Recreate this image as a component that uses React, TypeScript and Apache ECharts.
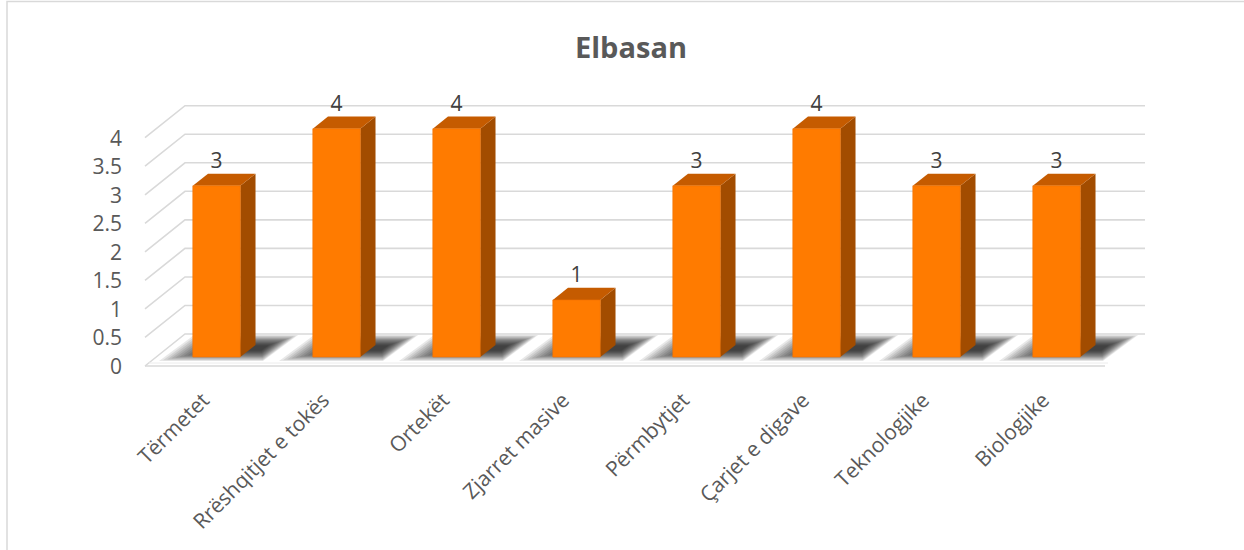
import React, { useEffect, useRef } from "react";
import * as echarts from "echarts";

const chartTitle = "Elbasan";
const categories = [
  "Tërmetet",
  "Rrëshqitjet e tokës",
  "Ortekët",
  "Zjarret masive",
  "Përmbytjet",
  "Çarjet e digave",
  "Teknologjike",
  "Biologjike",
];
const values = [3, 4, 4, 1, 3, 4, 3, 3];
const yTicks = [0, 0.5, 1, 1.5, 2, 2.5, 3, 3.5, 4];

const FONT = "'Open Sans', 'Noto Sans', sans-serif";
const DX = 40;
const DY = -32;
const F1 = 0.28;
const F2 = 0.66;
const GRID_COLOR = "#d9d9d9";

export default function App() {
  const ref = useRef<HTMLDivElement>(null);
  useEffect(() => {
    if (!ref.current) return;
    const chart = echarts.init(ref.current, undefined, { renderer: "svg" });

    const gridData = yTicks.map((v) => [0, v]);
    const barData = values.map((v, i) => [i, v]);

    const option: any = {
      animation: false,
      backgroundColor: "#ffffff",
      title: {
        text: chartTitle,
        left: 626,
        top: 27,
        textAlign: "center",
        textStyle: { fontFamily: FONT, fontSize: 29, fontWeight: "bold", color: "#595959" },
      },
      graphic: [
        {
          type: "rect",
          shape: { x: 7, y: 1.5, width: 1400, height: 700 },
          style: { fill: "none", stroke: "#d9d9d9", lineWidth: 1.5 },
          silent: true,
        },
      ],
      grid: { left: 145, right: 139, top: 137.7, bottom: 184 },
      xAxis: {
        type: "category",
        data: categories,
        boundaryGap: true,
        axisLine: { show: false },
        axisTick: { show: false },
        splitLine: { show: false },
        axisLabel: {
          rotate: 45,
          margin: 30,
          interval: 0,
          fontFamily: FONT,
          fontSize: 21,
          color: "#595959",
        },
      },
      yAxis: {
        type: "value",
        min: 0,
        max: 4,
        interval: 0.5,
        axisLine: { show: false },
        axisTick: { show: false },
        splitLine: { show: false },
        axisLabel: { margin: 23, fontFamily: FONT, fontSize: 21, color: "#595959" },
      },
      series: [
        {
          type: "custom",
          z: 1,
          silent: true,
          data: gridData,
          encode: { x: 0, y: 1 },
          renderItem: (params: any, api: any) => {
            const v = api.value(1);
            const bw = api.size([1, 0])[0];
            const p0 = api.coord([0, v]);
            const p1 = api.coord([categories.length - 1, v]);
            const left = p0[0] - bw / 2;
            const right = p1[0] + bw / 2;
            const y = p0[1];
            const children: any[] = [
              {
                type: "polyline",
                shape: {
                  points: [
                    [left, y],
                    [left + DX, y + DY],
                    [right + DX, y + DY],
                  ],
                },
                style: { stroke: GRID_COLOR, lineWidth: 1.6, fill: "none" },
              },
            ];
            if (v === 0) {
              children.push({
                type: "line",
                shape: { x1: left, y1: y, x2: right, y2: y },
                style: { stroke: GRID_COLOR, lineWidth: 1.6 },
              });
              children.push({
                type: "line",
                shape: { x1: left + 4, y1: y - 3, x2: right + 3, y2: y - 3 },
                style: { stroke: "#ececec", lineWidth: 1 },
              });
            }
            return { type: "group", children };
          },
        },
        {
          type: "custom",
          z: 2,
          silent: true,
          data: barData,
          encode: { x: 0, y: 1 },
          renderItem: (params: any, api: any) => {
            const i = api.value(0);
            const base = api.coord([i, 0]);
            const cx = base[0];
            const yF = base[1] - 5;
            const yB = base[1] - 31;
            const slant = 1.35;
            const layers = 14;
            const children: any[] = [];
            for (let k = 0; k < layers; k++) {
              const xl = cx - 46 + 3 * k;
              const xr = cx + 58 - 1.2 * k;
              const f = yF - 0.8 * k;
              const b = yB + 0.8 * k;
              const s = (f - b) * slant;
              const off = (yF - f) * slant;
              children.push({
                type: "polygon",
                shape: {
                  points: [
                    [xl + off, f],
                    [xr + off, f],
                    [xr + off + s, b],
                    [xl + off + s, b],
                  ],
                },
                style: { fill: "rgba(0,0,0,0.09)" },
              });
            }
            return { type: "group", children };
          },
        },
        {
          type: "custom",
          z: 3,
          silent: true,
          data: barData,
          encode: { x: 0, y: 1 },
          renderItem: (params: any, api: any) => {
            const i = api.value(0);
            const v = api.value(1);
            const base = api.coord([i, 0]);
            const top = api.coord([i, v]);
            const bw = api.size([1, 0])[0];
            const W = bw * 0.396;
            const x0 = base[0] + DX * F1 - bw * 0.195;
            const yBot = base[1] + DY * F1;
            const yTop = top[1] + DY * F1;
            const bx = DX * (F2 - F1);
            const by = DY * (F2 - F1);
            return {
              type: "group",
              children: [
                {
                  type: "polygon",
                  shape: {
                    points: [
                      [x0 + W, yTop],
                      [x0 + W + bx, yTop + by],
                      [x0 + W + bx, yBot + by],
                      [x0 + W, yBot],
                    ],
                  },
                  style: { fill: "#A24C00" },
                },
                {
                  type: "polygon",
                  shape: {
                    points: [
                      [x0, yTop],
                      [x0 + W, yTop],
                      [x0 + W + bx, yTop + by],
                      [x0 + bx, yTop + by],
                    ],
                  },
                  style: { fill: "#C55B00" },
                },
                {
                  type: "rect",
                  shape: { x: x0, y: yTop, width: W, height: yBot - yTop },
                  style: { fill: "#FF7B00", stroke: "#F07000", lineWidth: 0.6 },
                },
                {
                  type: "text",
                  style: {
                    text: String(v),
                    x: x0 + W / 2,
                    y: yTop + by - 3,
                    align: "center",
                    verticalAlign: "bottom",
                    fontFamily: FONT,
                    fontSize: 21,
                    fill: "#404040",
                  },
                },
              ],
            };
          },
        },
      ],
    };
    chart.setOption(option);
    return () => chart.dispose();
  }, []);
  return (
    <div
      ref={ref}
      style={{ position: "fixed", left: 0, top: 0, width: 1244, height: 550, background: "#fff" }}
    />
  );
}
